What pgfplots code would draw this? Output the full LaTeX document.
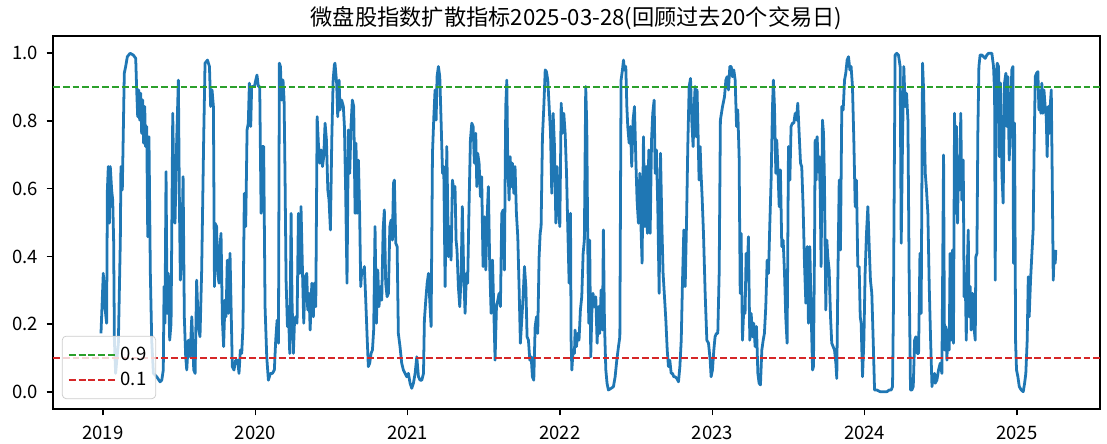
\documentclass[border=0pt]{standalone}
\usepackage{fontspec}
\setmainfont{Noto Sans CJK SC}
\usepackage{pgfplots}
\pgfplotsset{compat=1.18}
\definecolor{mplblue}{HTML}{1F77B4}
\definecolor{mplgreen}{HTML}{2CA02C}
\definecolor{mplred}{HTML}{D62728}
\begin{document}
\begin{tikzpicture}
\useasboundingbox (-28.62pt,-18.36pt) rectangle (569.16pt,220.86pt);
\begin{axis}[
  at={(0pt,0pt)}, anchor=south west,
  scale only axis, width=565.38pt, height=201.42pt,
  xmin=2018.672, xmax=2025.545, ymin=-0.05, ymax=1.05,
  xtick={2019,2020,2021,2022,2023,2024,2025},
  xticklabels={2019,2020,2021,2022,2023,2024,2025},
  ytick={0,0.2,0.4,0.6,0.8,1.0},
  yticklabels={0.0,0.2,0.4,0.6,0.8,1.0},
  xtick pos=bottom, ytick pos=left,
  tick align=outside, major tick length=3.5pt,
  every tick/.style={black, line width=0.8pt},
  axis line style={line width=0.8pt},
  ticklabel style={font=\fontsize{10}{12}\selectfont},
  xticklabel style={yshift=-2pt},
  yticklabel style={xshift=-1pt},
  title={微盘股指数扩散指标2025-03-28(回顾过去20个交易日)},
  every axis title/.style={at={(0.5,1)}, anchor=base, inner sep=0pt, yshift=5.6pt,
    font=\fontsize{12}{14}\selectfont},
  legend style={at={(0,0)}, anchor=south west, xshift=4.86pt, yshift=5.4pt,
    draw=black!20, rounded corners=2pt, fill=white, fill opacity=0.8, text opacity=1,
    font=\fontsize{10}{12}\selectfont, inner xsep=3pt, inner ysep=3.6pt, row sep=1pt},
  legend cell align=left,
  legend image code/.code={\draw[#1] (0pt,0pt) -- (20.5pt,0pt); \path (0pt,0pt) -- (25.5pt,0pt);},
]
\addplot[mplblue, line width=1.5pt, line join=round, forget plot] table[row sep=\\] {
x y\\
2018.987 0.173\\ 2019.002 0.350\\ 2019.013 0.250\\ 2019.024 0.203\\ 2019.029 0.596\\
2019.035 0.665\\ 2019.042 0.498\\ 2019.048 0.665\\ 2019.057 0.596\\ 2019.064 0.566\\
2019.070 0.448\\ 2019.075 0.153\\ 2019.083 0.055\\ 2019.101 0.144\\ 2019.114 0.448\\
2019.118 0.665\\ 2019.127 0.596\\ 2019.140 0.940\\ 2019.149 0.960\\ 2019.160 0.989\\
2019.178 0.999\\ 2019.199 0.994\\ 2019.215 0.984\\ 2019.221 0.896\\ 2019.228 0.812\\
2019.234 0.891\\ 2019.241 0.802\\ 2019.248 0.881\\ 2019.254 0.763\\ 2019.261 0.861\\
2019.267 0.734\\ 2019.274 0.842\\ 2019.280 0.724\\ 2019.287 0.783\\ 2019.294 0.458\\
2019.302 0.753\\ 2019.311 0.350\\ 2019.320 0.153\\ 2019.331 0.055\\ 2019.353 0.045\\
2019.375 0.030\\ 2019.386 0.035\\ 2019.396 0.065\\ 2019.401 0.311\\ 2019.407 0.203\\
2019.414 0.650\\ 2019.421 0.232\\ 2019.429 0.350\\ 2019.438 0.153\\ 2019.447 0.203\\
2019.458 0.822\\ 2019.464 0.645\\ 2019.473 0.498\\ 2019.484 0.743\\ 2019.495 0.920\\
2019.502 0.547\\ 2019.508 0.330\\ 2019.517 0.409\\ 2019.526 0.635\\ 2019.534 0.222\\
2019.543 0.104\\ 2019.550 0.065\\ 2019.561 0.153\\ 2019.572 0.104\\ 2019.583 0.222\\
2019.596 0.065\\ 2019.605 0.055\\ 2019.615 0.330\\ 2019.626 0.193\\ 2019.637 0.163\\
2019.648 0.360\\ 2019.661 0.743\\ 2019.670 0.970\\ 2019.686 0.979\\ 2019.699 0.960\\
2019.707 0.842\\ 2019.716 0.891\\ 2019.725 0.842\\ 2019.732 0.311\\
2019.735 0.498\\ 2019.746 0.488\\ 2019.753 0.350\\ 2019.762 0.321\\ 2019.768 0.429\\
2019.775 0.468\\ 2019.784 0.212\\ 2019.792 0.134\\ 2019.801 0.271\\ 2019.808 0.222\\
2019.816 0.389\\ 2019.823 0.232\\ 2019.834 0.409\\ 2019.841 0.252\\ 2019.849 0.075\\
2019.860 0.065\\ 2019.871 0.094\\ 2019.884 0.094\\ 2019.893 0.055\\ 2019.902 0.124\\
2019.911 0.114\\ 2019.919 0.193\\ 2019.928 0.586\\ 2019.937 0.488\\ 2019.946 0.773\\
2019.954 0.793\\ 2019.961 0.911\\ 2019.970 0.783\\ 2019.976 0.901\\ 2019.994 0.901\\
2020.003 0.920\\ 2020.011 0.935\\ 2020.020 0.901\\ 2020.029 0.901\\ 2020.038 0.527\\
2020.046 0.724\\ 2020.055 0.724\\ 2020.064 0.252\\ 2020.075 0.104\\ 2020.086 0.035\\
2020.099 0.055\\ 2020.112 0.055\\ 2020.125 0.065\\ 2020.134 0.153\\ 2020.143 0.212\\
2020.152 0.144\\ 2020.158 0.970\\ 2020.165 0.960\\ 2020.173 0.861\\ 2020.182 0.920\\
2020.189 0.861\\ 2020.195 0.645\\ 2020.202 0.330\\ 2020.211 0.193\\ 2020.217 0.252\\
2020.226 0.114\\ 2020.235 0.527\\ 2020.241 0.271\\ 2020.250 0.114\\ 2020.257 0.203\\
2020.265 0.222\\ 2020.274 0.203\\ 2020.283 0.527\\ 2020.292 0.350\\ 2020.300 0.547\\
2020.309 0.370\\ 2020.318 0.203\\ 2020.327 0.340\\ 2020.338 0.350\\ 2020.344 0.242\\
2020.353 0.291\\ 2020.360 0.183\\ 2020.371 0.321\\ 2020.381 0.222\\ 2020.388 0.321\\
2020.397 0.252\\ 2020.406 0.812\\ 2020.414 0.734\\ 2020.423 0.675\\ 2020.432 0.714\\
2020.441 0.665\\ 2020.449 0.694\\ 2020.458 0.793\\ 2020.467 0.743\\ 2020.476 0.596\\
2020.484 0.566\\ 2020.493 0.478\\ 2020.502 0.743\\ 2020.511 0.920\\ 2020.519 0.965\\
2020.523 0.970\\ 2020.534 0.911\\ 2020.541 0.812\\ 2020.550 0.920\\ 2020.556 0.832\\
2020.567 0.861\\ 2020.578 0.842\\ 2020.585 0.783\\ 2020.593 0.596\\ 2020.602 0.321\\
2020.611 0.773\\ 2020.620 0.645\\ 2020.628 0.783\\ 2020.637 0.861\\ 2020.646 0.842\\
2020.655 0.527\\ 2020.661 0.734\\ 2020.668 0.527\\ 2020.677 0.684\\ 2020.685 0.527\\
2020.692 0.311\\ 2020.699 0.360\\ 2020.707 0.350\\ 2020.716 0.370\\ 2020.725 0.271\\
2020.734 0.163\\ 2020.742 0.075\\ 2020.751 0.085\\ 2020.760 0.114\\ 2020.769 0.124\\
2020.777 0.183\\ 2020.786 0.488\\ 2020.795 0.203\\ 2020.804 0.360\\ 2020.812 0.252\\
2020.821 0.311\\ 2020.830 0.271\\ 2020.839 0.478\\ 2020.847 0.537\\ 2020.856 0.321\\
2020.865 0.281\\ 2020.874 0.291\\ 2020.883 0.488\\ 2020.891 0.507\\ 2020.900 0.448\\
2020.907 0.616\\ 2020.913 0.625\\ 2020.922 0.439\\ 2020.931 0.429\\ 2020.939 0.173\\
2020.950 0.134\\ 2020.961 0.085\\ 2020.972 0.065\\ 2020.983 0.055\\ 2020.994 0.045\\
2021.005 0.055\\ 2021.016 0.026\\ 2021.027 0.011\\ 2021.038 0.026\\ 2021.049 0.055\\
2021.060 0.104\\ 2021.071 0.045\\ 2021.082 0.035\\ 2021.093 0.035\\ 2021.104 0.055\\
2021.110 0.212\\ 2021.119 0.271\\ 2021.128 0.321\\ 2021.137 0.350\\ 2021.145 0.271\\
2021.154 0.193\\ 2021.163 0.704\\ 2021.172 0.812\\ 2021.180 0.891\\ 2021.187 0.802\\
2021.193 0.930\\ 2021.202 0.960\\ 2021.211 0.930\\ 2021.220 0.793\\ 2021.229 0.645\\
2021.237 0.665\\ 2021.246 0.311\\ 2021.257 0.724\\ 2021.268 0.399\\ 2021.277 0.488\\
2021.285 0.389\\ 2021.294 0.625\\ 2021.303 0.596\\
2021.311 0.606\\ 2021.318 0.448\\ 2021.324 0.419\\ 2021.333 0.311\\ 2021.342 0.252\\
2021.351 0.340\\ 2021.359 0.547\\ 2021.368 0.350\\ 2021.377 0.232\\ 2021.386 0.350\\
2021.394 0.321\\ 2021.403 0.547\\ 2021.412 0.743\\ 2021.421 0.793\\ 2021.430 0.783\\
2021.438 0.675\\ 2021.447 0.763\\ 2021.454 0.606\\ 2021.460 0.704\\ 2021.469 0.675\\
2021.478 0.576\\ 2021.486 0.635\\ 2021.495 0.370\\ 2021.504 0.517\\ 2021.513 0.360\\
2021.521 0.507\\ 2021.530 0.606\\ 2021.539 0.370\\ 2021.548 0.232\\ 2021.557 0.389\\
2021.565 0.252\\ 2021.574 0.094\\ 2021.583 0.252\\ 2021.592 0.271\\ 2021.600 0.291\\
2021.609 0.252\\ 2021.618 0.527\\ 2021.627 0.537\\ 2021.635 0.360\\ 2021.644 0.842\\
2021.651 0.920\\ 2021.657 0.684\\ 2021.666 0.566\\ 2021.673 0.694\\ 2021.681 0.606\\
2021.688 0.675\\ 2021.697 0.586\\ 2021.705 0.665\\ 2021.714 0.527\\ 2021.723 0.458\\
2021.732 0.301\\ 2021.740 0.144\\ 2021.749 0.212\\ 2021.758 0.281\\ 2021.767 0.370\\
2021.776 0.311\\ 2021.784 0.163\\ 2021.793 0.153\\ 2021.802 0.094\\ 2021.811 0.104\\
2021.819 0.045\\ 2021.828 0.035\\ 2021.837 0.193\\ 2021.846 0.222\\ 2021.854 0.173\\
2021.863 0.399\\ 2021.870 0.468\\ 2021.876 0.488\\ 2021.885 0.753\\ 2021.894 0.842\\
2021.903 0.950\\ 2021.911 0.945\\ 2021.920 0.920\\ 2021.929 0.842\\ 2021.938 0.763\\
2021.946 0.586\\ 2021.955 0.822\\ 2021.964 0.724\\ 2021.973 0.498\\ 2021.981 0.665\\
2021.990 0.547\\ 2021.999 0.488\\ 2022.008 0.852\\ 2022.016 0.763\\ 2022.025 0.822\\
2022.034 0.763\\ 2022.043 0.645\\ 2022.051 0.488\\ 2022.060 0.321\\ 2022.069 0.527\\
2022.073 0.153\\ 2022.078 0.065\\ 2022.086 0.124\\ 2022.095 0.114\\
2022.099 0.183\\ 2022.108 0.134\\ 2022.117 0.173\\ 2022.125 0.153\\ 2022.134 0.242\\
2022.143 0.281\\ 2022.152 0.409\\ 2022.160 0.448\\ 2022.169 0.901\\ 2022.176 0.783\\
2022.182 0.448\\ 2022.189 0.203\\ 2022.195 0.448\\ 2022.202 0.104\\ 2022.209 0.232\\
2022.217 0.291\\ 2022.226 0.252\\ 2022.235 0.281\\ 2022.244 0.144\\ 2022.252 0.252\\
2022.261 0.173\\ 2022.270 0.301\\ 2022.279 0.183\\ 2022.285 0.478\\ 2022.292 0.203\\
2022.301 0.065\\ 2022.309 0.026\\ 2022.318 0.006\\ 2022.336 0.011\\ 2022.351 0.016\\
2022.362 0.045\\ 2022.373 0.094\\ 2022.384 0.134\\ 2022.393 0.163\\ 2022.401 0.920\\
2022.410 0.950\\ 2022.417 0.979\\ 2022.423 0.950\\ 2022.432 0.960\\ 2022.439 0.842\\
2022.445 0.783\\ 2022.454 0.734\\ 2022.463 0.783\\ 2022.471 0.665\\ 2022.480 0.802\\
2022.489 0.842\\ 2022.498 0.684\\ 2022.506 0.566\\ 2022.515 0.498\\ 2022.524 0.645\\
2022.533 0.468\\ 2022.539 0.380\\ 2022.548 0.753\\ 2022.557 0.488\\ 2022.566 0.665\\
2022.574 0.468\\ 2022.583 0.714\\ 2022.592 0.468\\ 2022.601 0.743\\ 2022.609 0.822\\
2022.618 0.861\\ 2022.625 0.645\\ 2022.633 0.714\\ 2022.642 0.547\\ 2022.651 0.291\\
2022.660 0.704\\ 2022.669 0.488\\ 2022.677 0.350\\ 2022.686 0.281\\ 2022.695 0.212\\
2022.704 0.124\\ 2022.712 0.075\\ 2022.721 0.094\\ 2022.730 0.055\\ 2022.739 0.055\\
2022.747 0.045\\ 2022.756 0.045\\ 2022.767 0.040\\ 2022.778 0.030\\ 2022.787 0.075\\
2022.796 0.153\\ 2022.804 0.321\\ 2022.813 0.478\\ 2022.822 0.311\\ 2022.831 0.507\\
2022.839 0.724\\ 2022.848 0.901\\ 2022.857 0.925\\ 2022.866 0.793\\ 2022.874 0.724\\
2022.883 0.861\\
2022.887 0.901\\ 2022.894 0.753\\ 2022.900 0.891\\ 2022.907 0.753\\ 2022.913 0.625\\
2022.920 0.724\\ 2022.926 0.645\\ 2022.933 0.576\\ 2022.942 0.468\\ 2022.953 0.291\\
2022.964 0.153\\ 2022.975 0.144\\ 2022.986 0.094\\ 2022.992 0.045\\ 2023.001 0.065\\
2023.010 0.124\\ 2023.018 0.163\\ 2023.027 0.173\\ 2023.036 0.173\\ 2023.045 0.350\\
2023.053 0.802\\ 2023.067 0.842\\ 2023.080 0.871\\ 2023.089 0.920\\ 2023.097 0.930\\
2023.106 0.891\\ 2023.115 0.960\\ 2023.124 0.960\\ 2023.132 0.930\\ 2023.141 0.950\\
2023.150 0.920\\ 2023.159 0.783\\ 2023.167 0.832\\ 2023.176 0.694\\ 2023.183 0.291\\
2023.189 0.468\\ 2023.198 0.153\\ 2023.207 0.252\\ 2023.215 0.232\\ 2023.222 0.409\\
2023.228 0.330\\ 2023.237 0.458\\ 2023.246 0.153\\ 2023.255 0.232\\ 2023.264 0.163\\
2023.272 0.203\\ 2023.281 0.134\\ 2023.290 0.193\\ 2023.299 0.055\\ 2023.307 0.026\\
2023.316 0.021\\ 2023.325 0.124\\ 2023.334 0.153\\ 2023.342 0.173\\ 2023.351 0.252\\
2023.360 0.389\\ 2023.369 0.350\\ 2023.377 0.488\\ 2023.386 0.625\\ 2023.395 0.842\\
2023.401 0.920\\ 2023.408 0.842\\ 2023.417 0.645\\ 2023.423 0.743\\ 2023.430 0.665\\
2023.439 0.547\\ 2023.447 0.655\\ 2023.456 0.429\\ 2023.465 0.448\\ 2023.474 0.350\\
2023.482 0.222\\ 2023.491 0.144\\ 2023.500 0.724\\ 2023.509 0.625\\ 2023.517 0.783\\
2023.526 0.793\\ 2023.535 0.793\\ 2023.544 0.822\\ 2023.552 0.802\\ 2023.561 0.852\\
2023.570 0.763\\ 2023.579 0.675\\ 2023.587 0.665\\ 2023.596 0.547\\ 2023.605 0.380\\
2023.614 0.262\\ 2023.623 0.429\\ 2023.631 0.203\\ 2023.640 0.429\\ 2023.649 0.232\\
2023.658 0.065\\ 2023.664 0.075\\ 2023.671 0.429\\
2023.675 0.743\\ 2023.682 0.625\\ 2023.688 0.753\\ 2023.695 0.675\\ 2023.701 0.694\\
2023.708 0.596\\ 2023.714 0.370\\ 2023.723 0.802\\ 2023.730 0.763\\ 2023.736 0.625\\
2023.745 0.242\\ 2023.752 0.448\\ 2023.758 0.399\\ 2023.767 0.360\\ 2023.776 0.222\\
2023.784 0.144\\ 2023.793 0.134\\ 2023.802 0.124\\ 2023.811 0.085\\ 2023.817 0.040\\
2023.824 0.330\\ 2023.833 0.625\\ 2023.841 0.419\\ 2023.850 0.842\\ 2023.859 0.832\\
2023.868 0.920\\ 2023.876 0.940\\ 2023.885 0.979\\ 2023.894 0.989\\ 2023.903 0.950\\
2023.911 0.960\\ 2023.920 0.901\\ 2023.929 0.743\\ 2023.938 0.547\\ 2023.946 0.625\\
2023.955 0.370\\ 2023.964 0.370\\ 2023.971 0.222\\ 2023.977 0.203\\ 2023.986 0.045\\
2023.995 0.153\\ 2024.003 0.350\\ 2024.012 0.468\\ 2024.021 0.547\\ 2024.030 0.429\\
2024.038 0.330\\ 2024.047 0.291\\ 2024.056 0.153\\ 2024.065 0.006\\ 2024.080 0.006\\
2024.102 0.001\\ 2024.124 0.001\\ 2024.146 0.001\\ 2024.161 0.006\\ 2024.174 0.006\\
2024.183 0.016\\ 2024.189 0.252\\ 2024.196 0.743\\ 2024.200 0.994\\ 2024.211 0.999\\
2024.222 0.994\\ 2024.233 0.960\\ 2024.240 0.439\\ 2024.249 0.753\\ 2024.257 0.960\\
2024.266 0.842\\ 2024.275 0.881\\ 2024.284 0.802\\ 2024.292 0.350\\ 2024.301 0.006\\
2024.310 0.006\\ 2024.319 0.016\\ 2024.328 0.153\\ 2024.336 0.163\\ 2024.345 0.114\\
2024.354 0.114\\ 2024.363 0.409\\ 2024.371 0.232\\ 2024.380 0.970\\ 2024.387 0.891\\
2024.398 0.645\\ 2024.406 0.596\\ 2024.415 0.527\\ 2024.424 0.311\\ 2024.433 0.153\\
2024.442 0.016\\ 2024.450 0.045\\ 2024.459 0.055\\
2024.463 0.026\\ 2024.474 0.035\\ 2024.485 0.065\\ 2024.496 0.085\\ 2024.507 0.055\\
2024.518 0.699\\ 2024.524 0.124\\ 2024.533 0.193\\ 2024.540 0.094\\ 2024.546 0.183\\
2024.555 0.124\\ 2024.561 0.409\\ 2024.568 0.153\\ 2024.577 0.419\\ 2024.583 0.144\\
2024.590 0.822\\ 2024.596 0.527\\ 2024.603 0.783\\ 2024.610 0.498\\ 2024.616 0.694\\
2024.623 0.596\\ 2024.631 0.822\\ 2024.638 0.566\\ 2024.647 0.684\\ 2024.653 0.281\\
2024.660 0.350\\ 2024.667 0.153\\ 2024.673 0.350\\ 2024.680 0.478\\ 2024.686 0.222\\
2024.693 0.311\\ 2024.699 0.183\\ 2024.708 0.291\\ 2024.717 0.193\\ 2024.726 0.153\\
2024.730 0.399\\ 2024.737 0.409\\ 2024.743 0.763\\ 2024.750 0.960\\ 2024.758 0.994\\
2024.769 0.994\\ 2024.780 0.989\\ 2024.791 0.984\\ 2024.802 0.994\\ 2024.813 0.999\\
2024.835 0.999\\ 2024.846 0.960\\ 2024.853 0.881\\ 2024.857 0.330\\ 2024.864 0.930\\
2024.870 0.970\\ 2024.879 0.960\\ 2024.885 0.694\\ 2024.892 0.911\\ 2024.901 0.645\\
2024.909 0.557\\ 2024.918 0.911\\ 2024.927 0.940\\ 2024.934 0.783\\ 2024.940 0.930\\
2024.949 0.684\\ 2024.958 0.822\\ 2024.966 0.950\\ 2024.973 0.960\\ 2024.977 0.380\\
2024.984 0.793\\ 2024.991 0.144\\ 2024.997 0.065\\ 2025.006 0.045\\ 2025.015 0.016\\
2025.028 0.006\\ 2025.041 0.001\\ 2025.050 0.026\\ 2025.058 0.055\\ 2025.067 0.153\\
2025.074 0.340\\ 2025.080 0.222\\ 2025.089 0.330\\ 2025.098 0.409\\ 2025.106 0.478\\
2025.113 0.734\\ 2025.120 0.930\\ 2025.128 0.940\\ 2025.137 0.945\\ 2025.144 0.832\\
2025.150 0.881\\ 2025.157 0.822\\ 2025.163 0.911\\ 2025.170 0.822\\ 2025.177 0.891\\
2025.185 0.842\\ 2025.192 0.812\\ 2025.198 0.694\\ 2025.205 0.842\\ 2025.212 0.763\\
2025.218 0.842\\ 2025.225 0.891\\ 2025.231 0.645\\ 2025.238 0.330\\ 2025.244 0.409\\
2025.251 0.380\\ 2025.255 0.419\\
};
\addplot[mplgreen, line width=1pt, dash pattern=on 3.7pt off 1.6pt] coordinates {(2018.672,0.9) (2025.545,0.9)};
\addlegendentry{0.9}
\addplot[mplred, line width=1pt, dash pattern=on 3.7pt off 1.6pt] coordinates {(2018.672,0.1) (2025.545,0.1)};
\addlegendentry{0.1}
\end{axis}
\end{tikzpicture}
\end{document}
